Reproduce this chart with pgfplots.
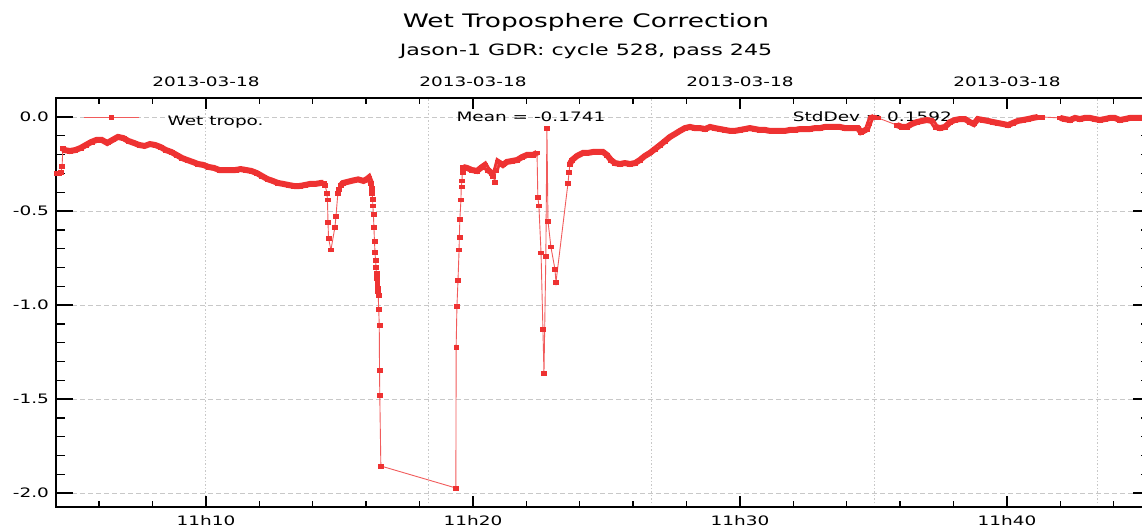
\documentclass[border=0pt]{standalone}
\usepackage{fontspec}
\setmainfont{DejaVu Sans}[FakeStretch=1.42]
\usepackage{pgfplots}
\usepackage{pgfplotstable}
\pgfplotsset{compat=1.18}
\definecolor{wet}{RGB}{238,50,50}
\definecolor{gridc}{RGB}{200,200,200}
\pgfplotstableread{
t y d
4.42 -0.298 0
4.49 -0.298 0
4.57 -0.293 0
4.61 -0.261 0
4.64 -0.165 1
4.7 -0.176 1
4.9 -0.181 1
5.1 -0.176 1
5.3 -0.165 1
5.5 -0.149 1
5.7 -0.133 1
5.9 -0.122 1
6.1 -0.122 1
6.3 -0.138 1
6.5 -0.122 1
6.7 -0.106 1
6.9 -0.112 1
7.1 -0.128 1
7.3 -0.138 1
7.5 -0.149 1
7.7 -0.154 1
7.9 -0.144 1
8.1 -0.149 1
8.3 -0.160 1
8.5 -0.176 1
8.7 -0.186 1
8.9 -0.202 1
9.1 -0.218 1
9.3 -0.229 1
9.5 -0.239 1
9.7 -0.250 1
9.9 -0.255 1
10.1 -0.266 1
10.3 -0.271 1
10.5 -0.282 1
10.7 -0.282 1
10.9 -0.282 1
11.1 -0.282 1
11.3 -0.277 1
11.5 -0.282 1
11.7 -0.287 1
11.9 -0.298 1
12.1 -0.314 1
12.3 -0.330 1
12.5 -0.340 1
12.7 -0.351 1
12.9 -0.356 1
13.1 -0.362 1
13.3 -0.367 1
13.5 -0.367 1
13.7 -0.362 1
13.9 -0.356 1
14.1 -0.356 1
14.3 -0.351 1
14.4 -0.351 1
14.46 -0.362 0
14.53 -0.404 0
14.55 -0.441 0
14.57 -0.559 0
14.59 -0.644 0
14.68 -0.707 0
14.83 -0.585 0
14.87 -0.527 0
14.94 -0.404 0
14.98 -0.383 0
15.06 -0.362 1
15.13 -0.351 1
15.3 -0.345 1
15.5 -0.338 1
15.7 -0.332 1
15.9 -0.340 1
16.03 -0.330 1
16.1 -0.322 1
16.18 -0.351 1
16.2 -0.378 0
16.22 -0.404 0
16.24 -0.436 0
16.25 -0.473 0
16.27 -0.516 0
16.29 -0.585 0
16.31 -0.660 0
16.33 -0.718 0
16.35 -0.761 0
16.37 -0.798 0
16.38 -0.830 0
16.39 -0.856 0
16.41 -0.883 0
16.42 -0.910 0
16.44 -0.926 0
16.45 -0.947 0
16.47 -1.021 0
16.49 -1.106 0
16.50 -1.346 0
16.51 -1.479 0
16.55 -1.856 0
19.36 -1.973 0
19.37 -1.223 0
19.40 -1.005 0
19.44 -0.867 0
19.48 -0.707 0
19.49 -0.638 0
19.51 -0.543 0
19.55 -0.441 0
19.56 -0.372 0
19.59 -0.340 0
19.60 -0.293 0
19.63 -0.266 1
19.78 -0.271 1
19.96 -0.282 1
20.15 -0.287 1
20.34 -0.266 1
20.45 -0.255 1
20.56 -0.282 1
20.71 -0.298 1
20.75 -0.314 1
20.82 -0.346 0
20.86 -0.282 1
20.94 -0.239 1
21.12 -0.255 1
21.27 -0.239 1
21.46 -0.234 1
21.65 -0.229 1
21.84 -0.213 1
22.02 -0.202 1
22.25 -0.202 1
22.40 -0.191 1
22.43 -0.426 0
22.47 -0.473 0
22.55 -0.723 0
22.62 -1.128 0
22.66 -1.362 0
22.73 -0.739 0
22.77 -0.059 0
22.81 -0.553 0
22.92 -0.691 0
23.07 -0.809 0
23.11 -0.878 0
23.56 -0.351 0
23.60 -0.293 0
23.63 -0.250 1
23.71 -0.229 1
23.90 -0.207 1
24.12 -0.191 1
24.31 -0.191 1
24.50 -0.186 1
24.68 -0.186 1
24.87 -0.186 1
25.02 -0.202 1
25.17 -0.229 1
25.32 -0.245 1
25.51 -0.250 1
25.69 -0.245 1
25.88 -0.250 1
26.07 -0.245 1
26.25 -0.229 1
26.44 -0.207 1
26.63 -0.191 1
26.82 -0.170 1
27.01 -0.149 1
27.19 -0.128 1
27.38 -0.106 1
27.57 -0.090 1
27.75 -0.074 1
27.94 -0.059 1
28.13 -0.053 1
28.31 -0.059 1
28.50 -0.059 1
28.69 -0.064 1
28.88 -0.053 1
29.06 -0.059 1
29.25 -0.064 1
29.44 -0.069 1
29.63 -0.074 1
29.81 -0.074 1
30.00 -0.069 1
30.19 -0.064 1
30.37 -0.059 1
30.56 -0.064 1
30.75 -0.069 1
30.94 -0.069 1
31.12 -0.074 1
31.31 -0.074 1
31.50 -0.074 1
31.69 -0.074 1
31.87 -0.069 1
32.06 -0.069 1
32.25 -0.064 1
32.43 -0.064 1
32.62 -0.064 1
32.81 -0.059 1
33.00 -0.059 1
33.18 -0.053 1
33.37 -0.053 1
33.56 -0.053 1
33.75 -0.053 1
33.93 -0.059 1
34.12 -0.059 1
34.31 -0.059 1
34.42 -0.059 1
34.53 -0.080 1
34.64 -0.074 1
34.76 -0.064 1
34.83 -0.037 1
34.91 -0.005 1
35.02 0.000 1
35.17 -0.005 0
35.88 -0.043 1
36.07 -0.053 1
36.25 -0.053 1
36.44 -0.037 1
36.63 -0.027 1
36.82 -0.021 1
37.00 -0.016 1
37.19 -0.021 1
37.34 -0.053 1
37.49 -0.059 1
37.68 -0.053 1
37.87 -0.027 1
38.05 -0.016 1
38.24 -0.011 1
38.43 -0.011 1
38.61 -0.027 1
38.76 -0.037 1
38.91 -0.011 1
39.10 -0.016 1
39.29 -0.021 1
39.48 -0.027 1
39.66 -0.032 1
39.85 -0.037 1
40.04 -0.043 1
40.22 -0.032 1
40.41 -0.021 1
40.60 -0.016 1
40.79 -0.011 1
40.97 -0.005 1
41.16 0.000 1
41.31 0.000 0
41.99 -0.005 1
42.17 -0.011 1
42.36 -0.016 1
42.55 -0.005 1
42.73 -0.011 1
42.92 -0.005 1
43.11 -0.005 1
43.30 -0.011 1
43.48 -0.016 1
43.67 -0.011 1
43.86 -0.005 1
44.04 -0.005 1
44.23 -0.016 1
44.42 -0.011 1
44.61 -0.005 1
44.79 -0.005 1
45.02 -0.005 1
45.30 -0.005 1
}\wetdata
\begin{document}
\begin{tikzpicture}
\pgfplotsset{
  base/.style={
    scale only axis, width=1094bp, height=409bp,
    xmin=4.382, xmax=45.36, ymin=-2.074, ymax=0.101,
    at={(0bp,0bp)}, anchor=south west,
    tick align=inside,
    axis line style={line width=1.8bp, black},
    major tick style={line width=1.8bp, black},
    minor tick style={line width=1.4bp, black},
    tick label style={font=\fontsize{13bp}{15bp}\selectfont},
  }
}
\begin{axis}[base,
  clip mode=individual,
  xtick=\empty,
  ytick={-2,-1.5,-1,-0.5,0},
  yticklabels={-2.0,-1.5,-1.0,-0.5,0.0},
  minor ytick={-1.9,-1.8,-1.7,-1.6,-1.4,-1.3,-1.2,-1.1,-0.9,-0.8,-0.7,-0.6,-0.4,-0.3,-0.2,-0.1},
  ytick pos=both, yticklabel pos=left,
  yticklabel style={xshift=-3.5bp},
  major tick length=17bp, minor tick length=9bp,
  ymajorgrids,
  major grid style={gridc, line width=0.9bp, dash pattern=on 5bp off 3bp},
  extra x ticks={10,18.345,26.69,35.035,43.38},
  extra x tick labels={},
  extra x tick style={grid=major, tick style={draw=none},
    major grid style={gridc, line width=1bp, dash pattern=on 1.5bp off 2bp}},
  legend style={draw=none, fill=none, at={(axis cs:5.393,-0.0213)}, anchor=west,
    inner sep=0pt, font=\fontsize{13bp}{15bp}\selectfont,
    nodes={inner sep=0pt}, cells={anchor=west}},
  legend image code/.code={
    \path[draw=none] (0bp,0bp) -- (84bp,0bp);
    \draw[mark repeat=2,mark phase=2,#1] plot coordinates {(0bp,4bp) (27.5bp,4bp) (55bp,4bp)};},
]
\node[anchor=base, font=\fontsize{13bp}{15bp}\selectfont] at (axis cs:22.17,-0.0266) {Mean = -0.1741};
\node[anchor=base, font=\fontsize{13bp}{15bp}\selectfont] at (axis cs:34.96,-0.0266) {StdDev = 0.1592};
\node[anchor=base, font=\fontsize{13bp}{15bp}\selectfont, yshift=11bp] at (axis cs:10,0.101) {2013-03-18};
\node[anchor=base, font=\fontsize{13bp}{15bp}\selectfont, yshift=11bp] at (axis cs:20,0.101) {2013-03-18};
\node[anchor=base, font=\fontsize{13bp}{15bp}\selectfont, yshift=11bp] at (axis cs:30,0.101) {2013-03-18};
\node[anchor=base, font=\fontsize{13bp}{15bp}\selectfont, yshift=11bp] at (axis cs:40,0.101) {2013-03-18};
\addplot[wet, line width=6bp, no marks, forget plot, unbounded coords=jump,
  restrict expr to domain={\thisrow{d}}{0.5:1.5}] table[x=t,y=y] {\wetdata};
\addplot[wet!80!white, line width=0.9bp, mark=square*, mark size=1.7bp,
  mark options={solid, fill=wet, draw=wet, line width=0.3bp, xscale=1.45}]
  table[x=t,y=y] {\wetdata};
\addlegendentry{Wet tropo.}
\end{axis}
\begin{axis}[base,
  hide y axis,
  xtick={10,20,30,40},
  xticklabels={11h10,11h20,11h30,11h40},
  minor xtick={6,8,12,14,16,18,22,24,26,28,32,34,36,38,42,44},
  xtick pos=both, xticklabel pos=bottom,
  major tick length=11bp, minor tick length=6bp,
  xticklabel style={yshift=-5.5bp},
]
\end{axis}
\node[anchor=base, font=\fontsize{18.6bp}{21bp}\selectfont] at (530bp,479bp) {Wet Troposphere Correction};
\node[anchor=base, font=\fontsize{15.6bp}{18bp}\selectfont] at (530bp,451bp) {Jason-1 GDR: cycle 528, pass 245};
\pgfresetboundingbox
\useasboundingbox (-56bp,-23bp) rectangle (1086bp,507bp);
\end{tikzpicture}
\end{document}
